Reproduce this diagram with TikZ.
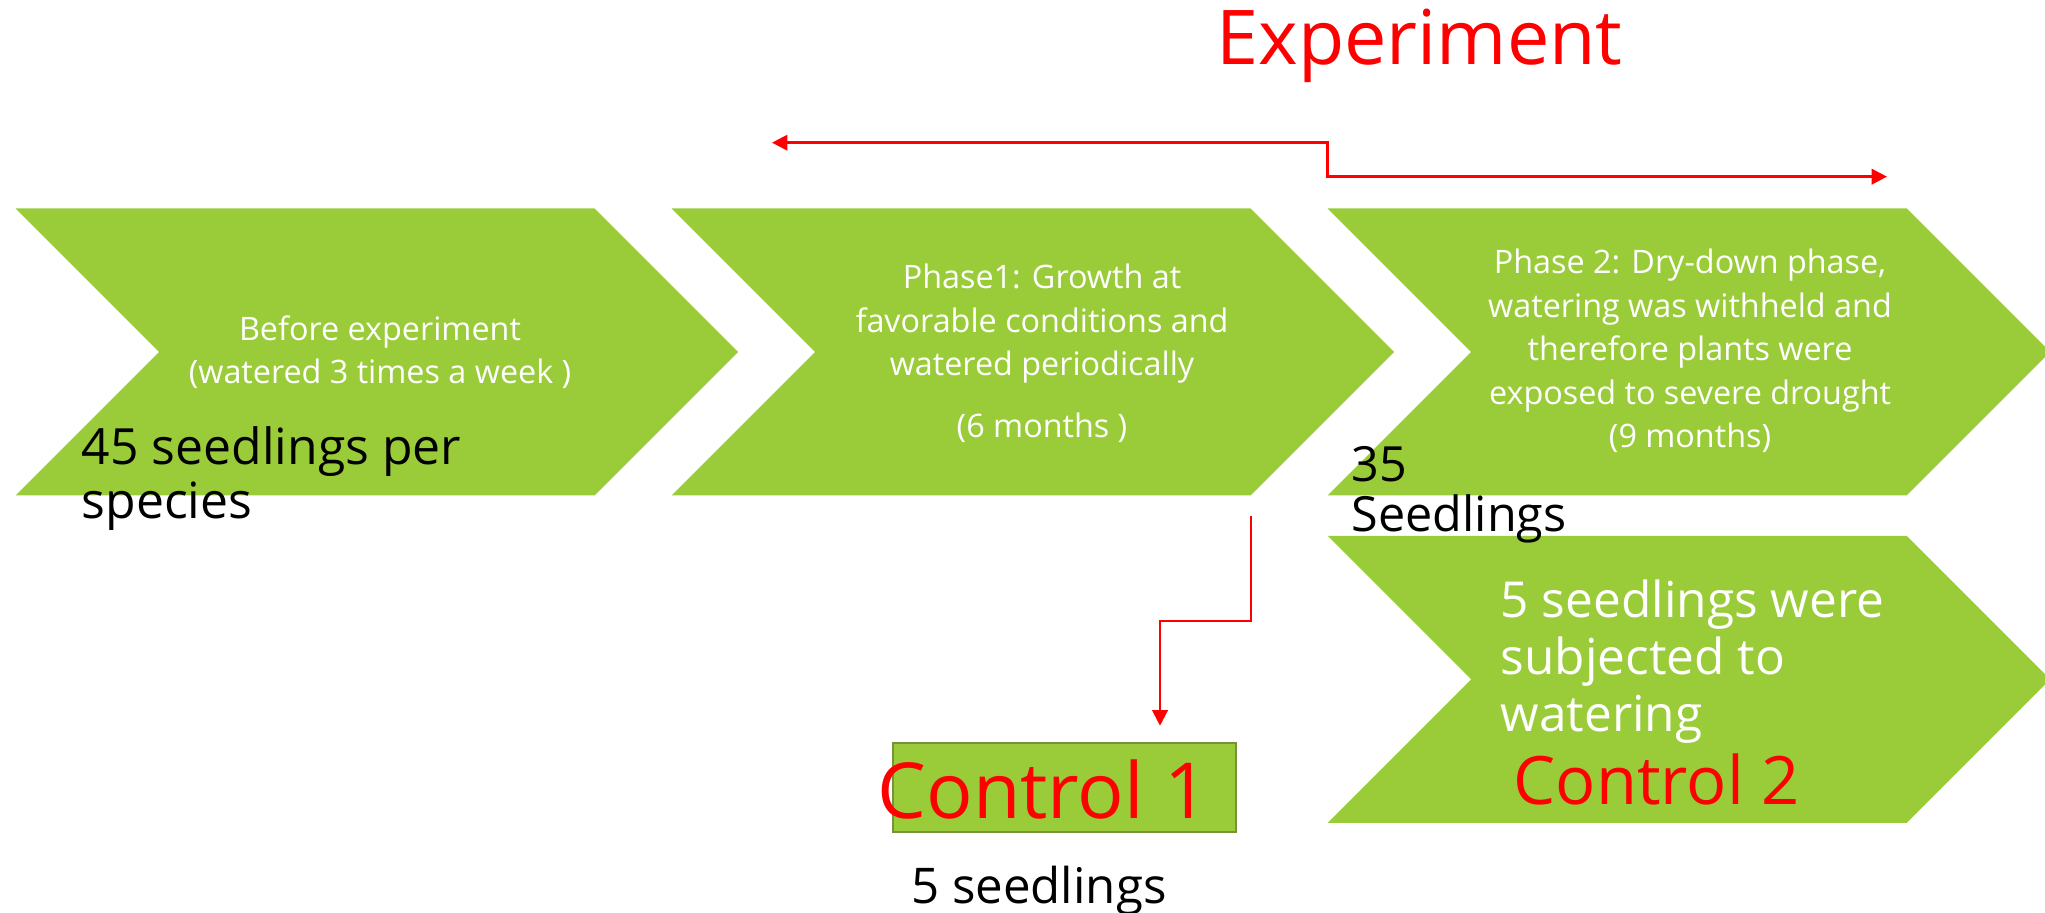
\documentclass[tikz,border=0pt]{standalone}
\usepackage{xcolor}
\usepackage{fontspec}
\setmainfont{Open Sans}
\usetikzlibrary{arrows.meta}

\definecolor{leaf}{RGB}{154,204,57}
\definecolor{leafdark}{RGB}{118,146,60}

\tikzset{
    chev/.style={fill=leaf},
    txtw/.style={text=white, align=center, inner sep=0pt, font=\fontsize{9.2}{12.4}\selectfont},
    txtb/.style={text=black, align=left, inner sep=0pt, font=\fontsize{14.2}{15.4}\selectfont},
    redline/.style={red, line width=0.7pt},
    tip/.style={-{Triangle[length=4.4pt,width=4.4pt]}},
}

\begin{document}
\begin{tikzpicture}
    \useasboundingbox (0,0) rectangle (20.45,9.13);

    % 各块左上角
    \coordinate (A) at (0.156,7.045);
    \coordinate (B) at (6.717,7.045);
    \coordinate (C) at (13.277,7.045);
    \coordinate (D) at (13.277,3.772);

    % 箭头形块
    \fill[chev] (A) -- ++(5.79,0) -- ++(1.435,-1.435) -- ++(-1.435,-1.435) -- ++(-5.79,0) -- ++(1.435,1.435) -- cycle;
    \fill[chev] (B) -- ++(5.79,0) -- ++(1.435,-1.435) -- ++(-1.435,-1.435) -- ++(-5.79,0) -- ++(1.435,1.435) -- cycle;
    \fill[chev] (C) -- ++(5.79,0) -- ++(1.435,-1.435) -- ++(-1.435,-1.435) -- ++(-5.79,0) -- ++(1.435,1.435) -- cycle;
    \fill[chev] (D) -- ++(5.79,0) -- ++(1.435,-1.435) -- ++(-1.435,-1.435) -- ++(-5.79,0) -- ++(1.435,1.435) -- cycle;

    % 块内说明
    \node[txtw] (T1) at (3.80,5.607) {Before experiment\\(watered 3 times a week )};
    \node[txtw] (T2) at (10.42,5.596) {Phase1: Growth at\\favorable conditions and\\watered periodically\\[5.2pt](6 months )};
    \node[txtw] (T3) at (16.90,5.62) {Phase 2: Dry-down phase,\\watering was withheld and\\therefore plants were\\exposed to severe drought\\(9 months)};

    % 苗数
    \node[txtb, anchor=north west] (N1) at (0.81,4.872) {45 seedlings per\\species};
    \node[txtb, anchor=north west, font=\fontsize{13.8}{14}\selectfont] (N2) at (13.51,4.67) {35\\Seedlings};
    \node[txtw, align=left, anchor=north west, font=\fontsize{14.1}{16.2}\selectfont] (N3) at (15.00,3.34) {5 seedlings were\\subjected to\\watering};
    \node[red, inner sep=0pt, anchor=base west, font=\fontsize{19}{22}\selectfont] (K2) at (15.13,1.08) {Control 2};

    % 对照组 1
    \node[draw=leafdark, fill=leaf, line width=0.6pt, minimum width=3.43cm, minimum height=0.89cm, inner sep=0pt] (K1) at (10.649,1.2505) {};
    \node[red, inner sep=0pt, anchor=base west, font=\fontsize{22}{26}\selectfont] (L1) at (8.77,0.947) {Control 1};
    \node[inner sep=0pt, anchor=base west, font=\fontsize{14}{16}\selectfont] (L2) at (9.105,0.097) {5 seedlings};

    \node[red, inner sep=0pt, anchor=base, font=\fontsize{21.5}{25}\selectfont] (E) at (14.195,8.48) {Experiment};

    % 实验期双向箭头
    \coordinate (P) at (7.72,7.703);
    \coordinate (Q) at (18.87,7.363);
    \draw[redline, {Triangle[length=4.4pt,width=4.4pt]}-{Triangle[length=4.4pt,width=4.4pt]}] (P) -- (P -| C) |- (Q);

    % 引向对照组 1
    \coordinate (R) at (12.507,3.97);
    \coordinate (S) at (11.60,1.873);
    \draw[redline, line width=0.6pt, tip] (R) -- ++(0,-1.047) -| (S);

\end{tikzpicture}
\end{document}
